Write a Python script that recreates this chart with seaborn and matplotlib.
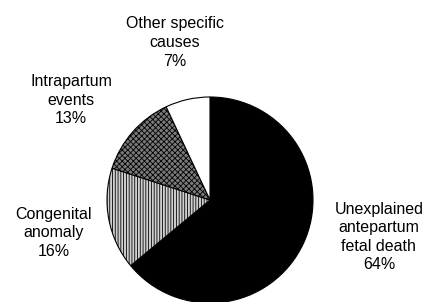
import matplotlib
matplotlib.use("Agg")
import matplotlib.pyplot as plt
import seaborn as sns

# slices, clockwise from 12 o'clock
CAUSES = ["Unexplained\nantepartum\nfetal death", "Congenital\nanomaly",
          "Intrapartum\nevents", "Other specific\ncauses"]
PERCENTS = [64, 16, 13, 7]

FACES = ["black", "#d0d0d0", "#7a7a7a", "white"]
HATCHES = [None, "||||||", "xxxxxx", None]
HATCH_COLORS = [None, "#707070", "black", None]
# label centres, in pie-radius units from the centre
LABEL_POS = [(1.64, -0.36), (-1.52, -0.32), (-1.35, 0.97), (-0.34, 1.53)]

sns.set_theme(style="white")
plt.rcParams["font.family"] = ["Liberation Sans", "DejaVu Sans"]
plt.rcParams["hatch.linewidth"] = 0.6

fig = plt.figure(figsize=(4.26, 3.02), dpi=100)
fig.patch.set_facecolor("white")
W, H = 426, 302
cx, cy, r = 210, 200, 103
ax = fig.add_axes([(cx - r) / W, (H - cy - r) / H, 2 * r / W, 2 * r / H])

wedges, _ = ax.pie(PERCENTS, startangle=90, counterclock=False, colors=FACES,
                   radius=1.0,
                   wedgeprops=dict(edgecolor="black", linewidth=0.8))
for w, h, hc in zip(wedges, HATCHES, HATCH_COLORS):
    if h:
        w.set_hatch(h)
        if hasattr(w, "set_hatchcolor"):
            w.set_hatchcolor(hc)
        w.set_edgecolor("black")

for name, pct, (x, y) in zip(CAUSES, PERCENTS, LABEL_POS):
    ax.text(x, y, f"{name}\n{pct}%", ha="center", va="center",
            fontsize=11.5, linespacing=1.3, color="black", clip_on=False)

ax.set_xlim(-1, 1)
ax.set_ylim(-1, 1)
ax.set_aspect("equal")
ax.axis("off")

fig.savefig("out.png", dpi=100, facecolor="white")
